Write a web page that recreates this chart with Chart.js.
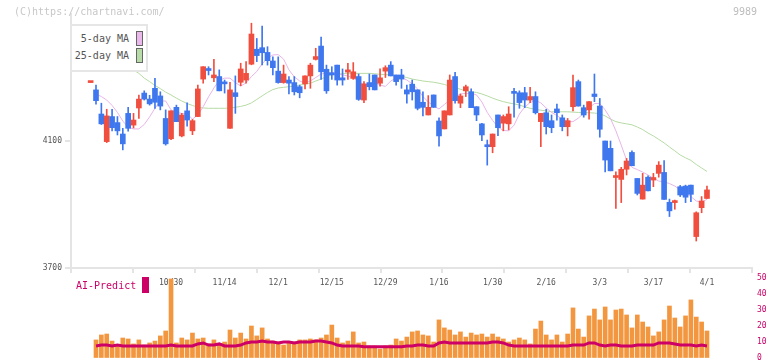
<!DOCTYPE html>
<html lang="ja">
<head>
<meta charset="UTF-8">
<title>9989 | Chart</title>
<script src="https://cdn.jsdelivr.net/npm/chart.js@4.4.1/dist/chart.umd.min.js"></script>
<style>
  body { margin: 0; background: #fff; }
  #wrap { position: relative; width: 772px; height: 361px; overflow: hidden; font-family: "DejaVu Sans Mono", monospace; }
  #wrap canvas { position: absolute; left: 0; top: 0; }
  .credit { position: absolute; left: 14px; top: 6px; font-size: 10px; line-height: 12px; color: #c8c8c8; }
  .code { position: absolute; right: 15px; top: 6px; font-size: 10px; line-height: 12px; color: #bdbdbd; }
  /* legend box top-left */
  #legend { position: absolute; left: 70px; top: 24px; width: 78px; height: 48px; box-sizing: border-box;
            border: 2px solid #e6e6e6; background: #fff; }
  #legend .row { position: absolute; right: 3px; height: 15px; display: flex; align-items: center; gap: 7px;
                 font-size: 10px; color: #555; }
  #legend .sw { width: 7px; height: 15px; box-sizing: border-box; border: 1px solid #666; }
  .ai { position: absolute; left: 76px; top: 280px; font-size: 10px; line-height: 12px; color: #cc0066; }
  .ai-sw { position: absolute; left: 142px; top: 277px; width: 7px; height: 16px; background: #cc0066; }
</style>
</head>
<body>
<div id="wrap">
  <canvas id="mainChart" width="772" height="361"></canvas>
  <canvas id="volChart" width="772" height="361"></canvas>
  <div class="credit">(C)https://chartnavi.com/</div>
  <div class="code">9989</div>
  <div id="legend"></div>
  <div class="ai">AI-Predict</div>
  <div class="ai-sw"></div>
</div>

<script>
// ---- data (index 0 = 10/8, index 1 = 10/9 ... index 115 = 4/1) ----
var tickLabels = ['10/30', '11/14', '12/1', '12/15', '12/29', '1/16', '1/30', '2/16', '3/3', '3/17', '4/1'];
var tickAt = [15, 25, 35, 45, 55, 65, 75, 85, 95, 105, 115];
var priceTicks = [3700, 4100];

var opens = [4284,
  4261,4185,4098,4177,4158,4122,4187,4150,4204,4251, 4232,4266,4242,4171,4107,4206,4116,4195,4132,4177,
  4295,4326,4299,4303,4286,4140,4252,4285,4292,4342, 4389,4394,4379,4352,4320,4284,4292,4284,4271,4280,
  4305,4357,4399,4326,4315,4339,4299,4317,4297,4303, 4229,4284,4308,4282,4320,4339,4308,4308,4261,4279,
  4261,4222,4182,4245,4163,4138,4182,4303,4219,4258, 4255,4208,4154,4087,4082,4182,4156,4154,4255,4252,
  4252,4229,4240,4161,4189,4164,4201,4173,4145,4208, 4287,4205,4198,4248,4210,4100,4077,3985,3979,4011,
  4064,3982,3917,3986,3977,3998,4001,3907,3906,3956, 3958,3961,3799,3890,3919];
var highs = [4284,
  4276,4219,4200,4200,4177,4140,4206,4187,4245,4258, 4244,4297,4255,4198,4195,4213,4187,4220,4168,4276,
  4334,4334,4357,4324,4292,4285,4305,4345,4350,4471, 4423,4462,4397,4365,4365,4339,4303,4303,4276,4305,
  4345,4392,4427,4339,4334,4339,4327,4345,4347,4311, 4287,4311,4308,4327,4337,4350,4308,4326,4276,4292,
  4261,4255,4243,4245,4173,4195,4308,4316,4248,4276, 4264,4208,4156,4103,4122,4182,4182,4208,4266,4258,
  4269,4269,4255,4187,4200,4182,4216,4182,4171,4308, 4292,4213,4224,4311,4234,4100,4100,4003,4017,4045,
  4069,3982,3998,3990,3998,4035,4038,3917,3914,3960, 3961,3961,3877,3925,3958];
var lows = [4284,
  4216,4152,4095,4132,4119,4072,4131,4141,4171,4229, 4213,4203,4198,4087,4104,4161,4113,4147,4120,4177,
  4282,4308,4287,4258,4251,4140,4187,4274,4282,4340, 4350,4340,4339,4308,4282,4282,4248,4245,4236,4264,
  4266,4355,4294,4250,4294,4276,4276,4294,4294,4228, 4221,4261,4261,4273,4300,4305,4276,4266,4219,4229,
  4198,4179,4182,4206,4084,4138,4182,4219,4205,4240, 4205,4164,4101,4024,4063,4117,4132,4135,4175,4203,
  4205,4221,4185,4082,4122,4126,4166,4132,4116,4195, 4210,4175,4169,4224,4112,4003,4006,3888,3906,3993,
  4022,3930,3917,3943,3956,3986,3916,3862,3885,3925, 3906,3909,3785,3874,3919];
var closes = [4284,
  4227,4154,4179,4142,4132,4091,4140,4166,4232,4232, 4217,4222,4210,4091,4195,4161,4182,4166,4164,4264,
  4334,4322,4308,4258,4280,4261,4240,4327,4313,4437, 4369,4378,4353,4331,4284,4311,4282,4255,4252,4305,
  4339,4366,4318,4258,4308,4292,4292,4324,4318,4231, 4280,4271,4261,4299,4331,4305,4287,4295,4248,4255,
  4203,4206,4206,4206,4116,4195,4292,4227,4242,4271, 4205,4182,4119,4082,4122,4142,4177,4185,4250,4221,
  4229,4240,4189,4187,4145,4142,4189,4145,4164,4268, 4210,4182,4224,4240,4137,4040,4006,3988,4011,4037,
  4022,3935,3961,3943,3985,4024,3916,3880,3909,3930, 3923,3932,3874,3911,3946];

var ma5 = [null,
  4248,4240,4229,4212,4190,4163,4143,4138,4138,4152, 4176,4203,4226,4226,4198,4190,4187,4185,4169,4182,
  4208,4239,4267,4291,4298,4298,4284,4273,4283,4303, 4319,4343,4361,4371,4372,4358,4324,4302,4289,4283,
  4289,4300,4311,4314,4315,4313,4308,4305,4298,4289, 4276,4280,4286,4276,4272,4289,4298,4300,4292,4280,
  4264,4240,4223,4210,4201,4215,4229,4240,4248,4250, 4250,4245,4223,4190,4165,4144,4133,4132,4150,4185,
  4207,4221,4228,4220,4204,4190,4180,4169,4161,4161, 4172,4188,4204,4218,4218,4198,4171,4132,4087,4040,
  4017,4010,4002,3993,3983,3974,3971,3966,3958,3946, 3936,3925,3911,3908,3916];
var ma25 = [null,
  4412,4399,4387,4374,4361,4349,4335,4324,4313,4298, 4287,4275,4265,4254,4245,4235,4226,4218,4212,4206,
  4204,4203,4203,4203,4203,4204,4206,4209,4213,4220, 4231,4242,4253,4262,4267,4269,4271,4273,4276,4279,
  4282,4289,4295,4303,4309,4310,4312,4313,4313,4313, 4313,4313,4312,4310,4309,4308,4306,4304,4300,4295,
  4292,4289,4287,4285,4282,4278,4273,4268,4263,4258, 4255,4253,4248,4242,4235,4229,4224,4220,4217,4213,
  4208,4203,4200,4197,4195,4192,4192,4192,4192,4191, 4190,4189,4189,4188,4186,4179,4169,4161,4157,4154,
  4151,4144,4136,4125,4116,4105,4094,4081,4069,4056, 4047,4039,4026,4015,4004];

var volume = [null,
  11.3,14.4,15,10.6,8.1,12.5,11.9,8.8,11.3,8.1, 9.4,10.6,13.8,16.9,49.4,9.4,12.5,11.3,15.6,11.9,
  12.5,8.8,11.3,8.8,10,17.5,12.5,15.6,11.9,20, 13.8,18.8,11.9,10.6,10,8.1,10,10,11.3,11.3,
  11.9,11.3,12.5,14.4,20.6,12.5,9.4,10.6,16.3,9.4, 10,7.5,7.5,5.6,7.5,8.1,11.9,10.6,13.1,16.3,
  16.9,14.4,13.8,10,23.8,18.8,17.5,14.4,16.3,13.1, 15.6,14.4,15,13.1,15,13.1,11.9,10,11.3,12.5,
  11.3,8.8,18.1,23.1,14.4,11.3,14.4,10,15,31.3, 18.1,13.1,26.3,30.6,23.8,31.9,23.8,30,30.6,26.9,
  18.8,26.9,22.5,19.4,13.8,16.3,23.8,32.5,25,19.4, 26.3,36.3,25.6,22.5,16.9];
var aiPredict = [null,
  7.5,8.1,8.1,7.5,8.1,7.5,7.5,7.5,7.5,7.5, 7.5,7.5,7.5,7.5,8.1,7.5,7.5,7.5,7.5,8.8,
  9.4,8.1,8.1,8.8,7.5,7.5,7.5,8.1,9.4,10, 10,10.6,10,10,9.4,10,10,9.4,10,10,
  10,10.6,10.6,10,9.4,8.1,7.5,7.5,7.5,7.5, 7.1,7.1,7.1,7.1,7.1,7.1,7.1,7.1,7.5,7.5,
  8.1,8.1,7.5,7.5,9.4,10,9.4,9.4,9.4,9.4, 9.4,9.4,9.4,9.4,10,10,9.4,8.1,7.5,7.5,
  7.5,7.5,7.5,7.5,7.5,7.5,7.5,7.5,7.5,8.1, 8.1,8.1,9.4,9.4,8.1,7.5,8.1,8.1,7.5,7.5,
  7.5,8.1,8.1,8.1,8.1,9.4,9.4,9.4,8.8,8.1, 8.1,8.1,7.5,8.1,7.5];

// ---- look ----
var upColor = '#f04f3f';
var downColor = '#3f77ee';
// x range chosen so candle 1 sits at 96px and candle 115 at 707px inside a 71..752 plot
var xMin = -3.665, xMax = 123.4;

Chart.defaults.font.family = '"DejaVu Sans Mono", monospace';
Chart.defaults.animation = false;

var candleColors = opens.map(function (o, i) { return closes[i] >= o ? upColor : downColor; });
var xy = function (arr) { return arr.map(function (v, i) { return { x: i, y: v }; }); };

var wicks = lows.map(function (l, i) { return { x: i, y: [l, highs[i]] }; });
var bodies = opens.map(function (o, i) { return { x: i, y: [o, closes[i]] }; });

var mainChart = new Chart(document.getElementById('mainChart'), {
  type: 'bar',
  data: {
    datasets: [
      { type: 'line', label: '5-day MA', data: xy(ma5), borderColor: '#e8b4e8', backgroundColor: '#eab8ea',
        borderWidth: 1, pointRadius: 0, tension: 0, order: 3 },
      { type: 'line', label: '25-day MA', data: xy(ma25), borderColor: '#b6dba4', backgroundColor: '#b8dca8',
        borderWidth: 1, pointRadius: 0, tension: 0, order: 4 },
      { label: 'wick', data: wicks, backgroundColor: candleColors, barThickness: 1, grouped: false,
        borderWidth: 0, order: 2 },
      { label: 'body', data: bodies, backgroundColor: candleColors, barThickness: 5, minBarLength: 2,
        grouped: false, borderWidth: 0, order: 1 }
    ]
  },
  options: {
    responsive: false,
    devicePixelRatio: 1,
    layout: { padding: { top: 14, right: 20, left: 0, bottom: 0 } },
    plugins: { legend: { display: false }, tooltip: { enabled: false } },
    scales: {
      y: {
        min: 3700, max: 4500, position: 'left',
        afterFit: function (s) { s.width = 71; },
        afterBuildTicks: function (s) { s.ticks = priceTicks.map(function (v) { return { value: v }; }); },
        ticks: { color: '#555', font: { size: 8 }, padding: 3, callback: function (v) { return String(v); } },
        grid: { drawOnChartArea: false, tickLength: 6, color: '#e4e4e4', lineWidth: 2 },
        border: { color: '#e4e4e4', width: 2 }
      },
      xg: {
        type: 'linear', position: 'bottom', min: xMin, max: xMax, offset: false, weight: 0,
        afterFit: function (s) { s.height = 5; },
        afterBuildTicks: function (s) {
          var t = [];
          for (var j = 0; j < 12; j++) t.push({ value: xMin + j * (xMax - xMin) / 11 });
          s.ticks = t;
        },
        ticks: { display: false },
        grid: { drawOnChartArea: false, tickLength: 5, color: '#e4e4e4', lineWidth: 2, offset: false },
        border: { color: '#e4e4e4', width: 2 }
      },
      x: {
        type: 'linear', position: 'bottom', min: xMin, max: xMax, offset: false, weight: 1,
        afterFit: function (s) { s.height = 88; },
        afterBuildTicks: function (s) { s.ticks = tickAt.map(function (v) { return { value: v }; }); },
        ticks: { color: '#555', font: { size: 8 }, padding: 5, autoSkip: false, maxRotation: 0,
                 callback: function (v, i) { return tickLabels[i]; } },
        grid: { display: false, drawTicks: false, offset: false },
        border: { display: false }
      }
    }
  }
});

var volChart = new Chart(document.getElementById('volChart'), {
  type: 'bar',
  data: {
    datasets: [
      { type: 'line', label: 'AI-Predict', data: xy(aiPredict), borderColor: '#cc0066', borderWidth: 3,
        pointRadius: 0, tension: 0, order: 1 },
      { label: 'volume', data: xy(volume), backgroundColor: '#f2973f', barThickness: 4, borderWidth: 0, order: 2 }
    ]
  },
  options: {
    responsive: false,
    devicePixelRatio: 1,
    layout: { padding: { top: 278, right: 0, left: 71, bottom: 3 } },
    plugins: { legend: { display: false }, tooltip: { enabled: false } },
    scales: {
      x: { type: 'linear', display: false, min: xMin, max: xMax, offset: false,
           afterFit: function (s) { s.height = 0; } },
      y: {
        position: 'right', min: 0, max: 50,
        afterFit: function (s) { s.width = 20; },
        // small lineHeight + no padding so the labels don't push the plot bottom up
        ticks: { stepSize: 10, color: '#cc0066', font: { size: 8, lineHeight: 0.4 }, padding: 0 },
        grid: { display: true, drawOnChartArea: false, drawTicks: true, tickLength: 5, color: 'rgba(0,0,0,0)' },
        border: { display: false }
      }
    }
  }
});

// legend from the MA datasets
var legend = document.getElementById('legend');
mainChart.data.datasets.filter(function (d) { return d.type === 'line'; }).forEach(function (d, n) {
  var row = document.createElement('div');
  row.className = 'row';
  row.style.top = (5 + n * 17) + 'px';
  row.innerHTML = '<span>' + d.label + '</span><span class="sw" style="background:' + d.backgroundColor + '"></span>';
  legend.appendChild(row);
});
</script>
</body>
</html>
